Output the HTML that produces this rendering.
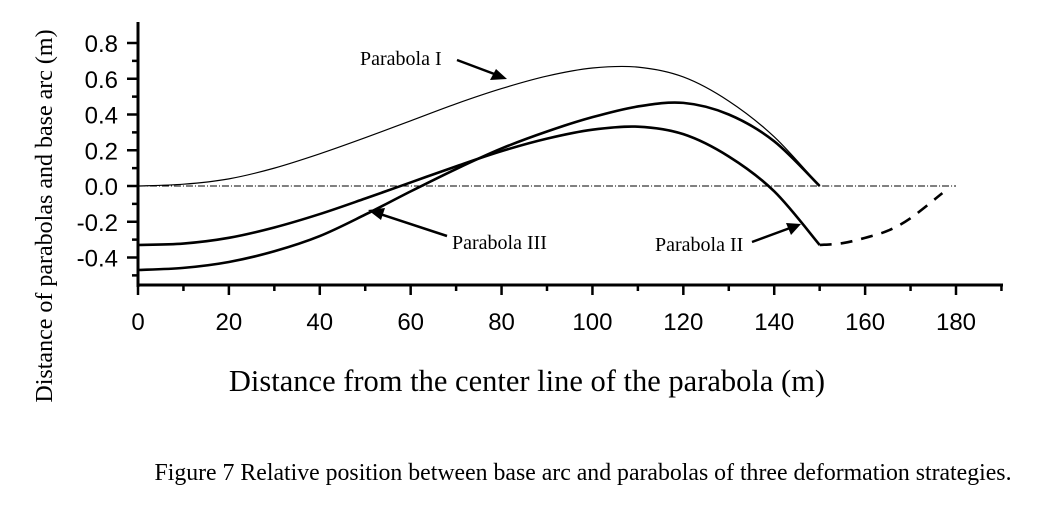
<!DOCTYPE html>
<html><head><meta charset="utf-8"><style>
body{margin:0;background:#fff;}
svg{display:block;}
text{fill:#000;}
.tk{font-family:"Liberation Sans",sans-serif;font-size:24px;}
.sf{font-family:"Liberation Serif",serif;}
</style></head><body>
<svg id="chart" width="1052" height="517">
<g id="axes"></g>
<g id="series"></g>
<g>
<text class="sf" x="360" y="65" font-size="20">Parabola I</text>
<line x1="457" y1="60" x2="497" y2="75" stroke="#000" stroke-width="2.5"/>
<polygon points="507,79 490,80 496,69" fill="#000"/>
<text class="sf" x="452" y="249" font-size="20">Parabola III</text>
<line x1="447" y1="236" x2="380" y2="214" stroke="#000" stroke-width="2.5"/>
<polygon points="368,210 385,208 381,220" fill="#000"/>
<text class="sf" x="655" y="251" font-size="20">Parabola II</text>
<line x1="752" y1="242" x2="790" y2="228" stroke="#000" stroke-width="2.5"/>
<polygon points="801,224 791,235 786,223" fill="#000"/>
</g>
<text class="sf" x="52" y="216" font-size="24" text-anchor="middle" transform="rotate(-90 52 216)">Distance of parabolas and base arc (m)</text>
<text class="sf" x="527" y="391" font-size="30.5" text-anchor="middle">Distance from the center line of the parabola (m)</text>
<text class="sf" x="583" y="480" font-size="23.8" text-anchor="middle">Figure 7 Relative position between base arc and parabolas of three deformation strategies.</text>
</svg>
<script>
const xTicks=[0,20,40,60,80,100,120,140,160,180];
const yTicks=[0.8,0.6,0.4,0.2,0.0,-0.2,-0.4];
const yTickLabels=["0.8","0.6","0.4","0.2","0.0","-0.2","-0.4"];
const p1X=[0,10,20,30,40,50,60,70,80,90,100,110,120,130,140,150];
const p1Y=[0,0.01,0.04,0.1,0.18,0.27,0.365,0.46,0.545,0.615,0.66,0.665,0.61,0.475,0.275,0];
const p2X=[0,10,20,30,40,50,60,70,80,90,100,110,120,130,140,150];
const p2Y=[-0.33,-0.322,-0.29,-0.232,-0.157,-0.07,0.02,0.11,0.195,0.265,0.315,0.332,0.29,0.165,-0.03,-0.33];
const p3X=[0,10,20,30,40,50,60,70,80,90,100,110,120,130,140,150];
const p3Y=[-0.47,-0.458,-0.425,-0.365,-0.28,-0.16,-0.03,0.095,0.21,0.305,0.385,0.445,0.465,0.4,0.25,0];
const dashX=[150,155,160,165,170,177];
const dashY=[-0.33,-0.32,-0.29,-0.25,-0.18,-0.04];
const baseX=[0,180];
const baseY=[0,0];
const NS="http://www.w3.org/2000/svg";
const X=v=>138+v*(818/180);
const Y=v=>186-v*178.75;
function mk(t,a,p){const e=document.createElementNS(NS,t);for(const k in a)e.setAttribute(k,a[k]);p.appendChild(e);return e;}
const ax=document.getElementById('axes');
const l1=mk('line',{x1:138,y1:22,x2:138,y2:287,stroke:'#000','stroke-width':3},ax);


const l2=mk('line',{x1:136.5,y1:285,x2:1003,y2:285,stroke:'#000','stroke-width':3},ax);


for(let v=0;v<=190;v+=10){const maj=v%20===0;mk('line',{x1:X(v),y1:285,x2:X(v),y2:285+(maj?10:6),stroke:'#000','stroke-width':2.5},ax);}
for(let i=-5;i<=8;i++){const v=i/10;const maj=i%2===0;mk('line',{x1:138,y1:Y(v),x2:138-(maj?11:6),y2:Y(v),stroke:'#000','stroke-width':2.5},ax);}
xTicks.forEach(v=>{const t=mk('text',{x:X(v),y:330,'text-anchor':'middle',class:'tk'},ax);t.textContent=v;

});
yTicks.forEach((v,i)=>{const t=mk('text',{x:118,y:Y(v)+9,'text-anchor':'end',class:'tk'},ax);t.textContent=yTickLabels[i];

});
function path(xs,ys){const p=xs.map((x,i)=>[X(x),Y(ys[i])]);let d='M'+p[0][0]+','+p[0][1];
for(let i=0;i<p.length-1;i++){const a=p[Math.max(i-1,0)],b=p[i],c=p[i+1],e=p[Math.min(i+2,p.length-1)];
d+=' C'+(b[0]+(c[0]-a[0])/6)+','+(b[1]+(c[1]-a[1])/6)+' '+(c[0]-(e[0]-b[0])/6)+','+(c[1]-(e[1]-b[1])/6)+' '+c[0]+','+c[1];}return d;}
const sg=document.getElementById('series');
const b=mk('path',{d:path(baseX,baseY),stroke:'#000','stroke-width':1,fill:'none','stroke-dasharray':'7 2 1 2'},sg);


const s1=mk('path',{d:path(p1X,p1Y),stroke:'#000','stroke-width':1.2,fill:'none'},sg);


const s2=mk('path',{d:path(p2X,p2Y),stroke:'#000','stroke-width':2.6,fill:'none'},sg);


const s3=mk('path',{d:path(p3X,p3Y),stroke:'#000','stroke-width':2.6,fill:'none'},sg);


const s4=mk('path',{d:path(dashX,dashY),stroke:'#000','stroke-width':2.6,fill:'none','stroke-dasharray':'12 9'},sg);


</script>
</body></html>
